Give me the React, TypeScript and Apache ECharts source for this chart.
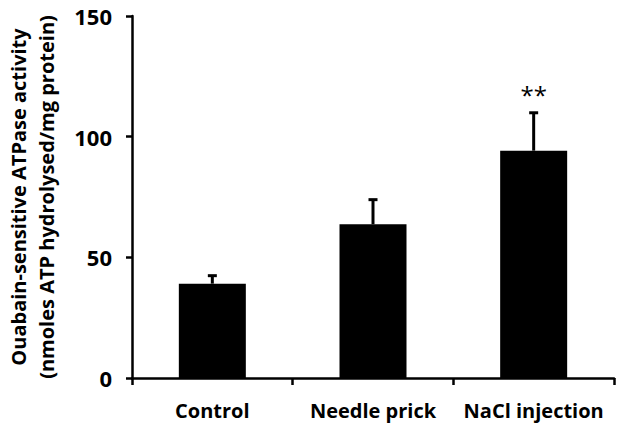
import React, { useEffect, useRef } from "react";
import * as echarts from "echarts";

const categories = ["Control", "Needle prick", "NaCl injection"];
const means = [39.1, 63.7, 94.2];
const errors = [3.3, 10.2, 15.7];
const significance = ["", "", "**"];
const yTicks = { min: 0, max: 150, interval: 50 };

const FONT = "Open Sans";

export default function App() {
  const ref = useRef<HTMLDivElement>(null);
  useEffect(() => {
    if (!ref.current) return;
    const chart = echarts.init(ref.current, null, { renderer: "svg" });
    const errData = categories.map((_, i) => [i, means[i], errors[i]]);
    chart.setOption({
      animation: false,
      backgroundColor: "#ffffff",
      grid: { left: 132, right: 10, top: 16, bottom: 52, containLabel: false, outerBoundsMode: "none" },
      xAxis: {
        type: "category",
        data: categories,
        axisLine: { lineStyle: { color: "#000", width: 2.5 } },
        axisTick: { show: true, length: 7, lineStyle: { color: "#000", width: 2.5 }, alignWithLabel: false },
        axisLabel: { color: "#000", fontFamily: FONT, fontWeight: "bold", fontSize: 20, margin: 22, interval: 0, hideOverlap: false },
      },
      yAxis: {
        type: "value",
        min: yTicks.min,
        max: yTicks.max,
        interval: yTicks.interval,
        name: "Ouabain-sensitive ATPase activity\n(nmoles ATP hydrolysed/mg protein)",
        nameLocation: "middle",
        nameGap: 72,
        nameTextStyle: { color: "#000", fontFamily: FONT, fontWeight: "bold", fontSize: 20, lineHeight: 28 },
        splitLine: { show: false },
        axisLine: { show: true, lineStyle: { color: "#000", width: 2.5 } },
        axisTick: { show: true, length: 6, lineStyle: { color: "#000", width: 2.5 } },
        axisLabel: { color: "#000", fontFamily: FONT, fontWeight: "bold", fontSize: 22, margin: 20 },
      },
      series: [
        {
          type: "bar",
          data: means,
          barWidth: 67,
          itemStyle: { color: "#000" },
        },
        {
          type: "custom",
          data: errData,
          z: 5,
          renderItem: (params: any, api: any) => {
            const idx = api.value(0);
            const m = api.value(1);
            const e = api.value(2);
            const base = api.coord([idx, m]);
            const top = api.coord([idx, m + e]);
            const half = 4.5;
            const children: any[] = [
              {
                type: "line",
                shape: { x1: base[0], y1: base[1], x2: top[0], y2: top[1] },
                style: { stroke: "#000", lineWidth: 3 },
              },
              {
                type: "line",
                shape: { x1: top[0] - half, y1: top[1], x2: top[0] + half, y2: top[1] },
                style: { stroke: "#000", lineWidth: 3 },
              },
            ];
            const sig = significance[params.dataIndex];
            if (sig) {
              children.push({
                type: "text",
                x: top[0],
                y: top[1] - 6,
                style: {
                  text: sig,
                  fill: "#000",
                  font: `24px ${FONT}`,
                  align: "center",
                  verticalAlign: "bottom",
                },
              });
            }
            return { type: "group", children };
          },
        },
      ],
    });
    return () => chart.dispose();
  }, []);
  return (
    <div
      ref={ref}
      style={{ position: "fixed", left: 0, top: 0, width: 624, height: 430, background: "#fff" }}
    />
  );
}
